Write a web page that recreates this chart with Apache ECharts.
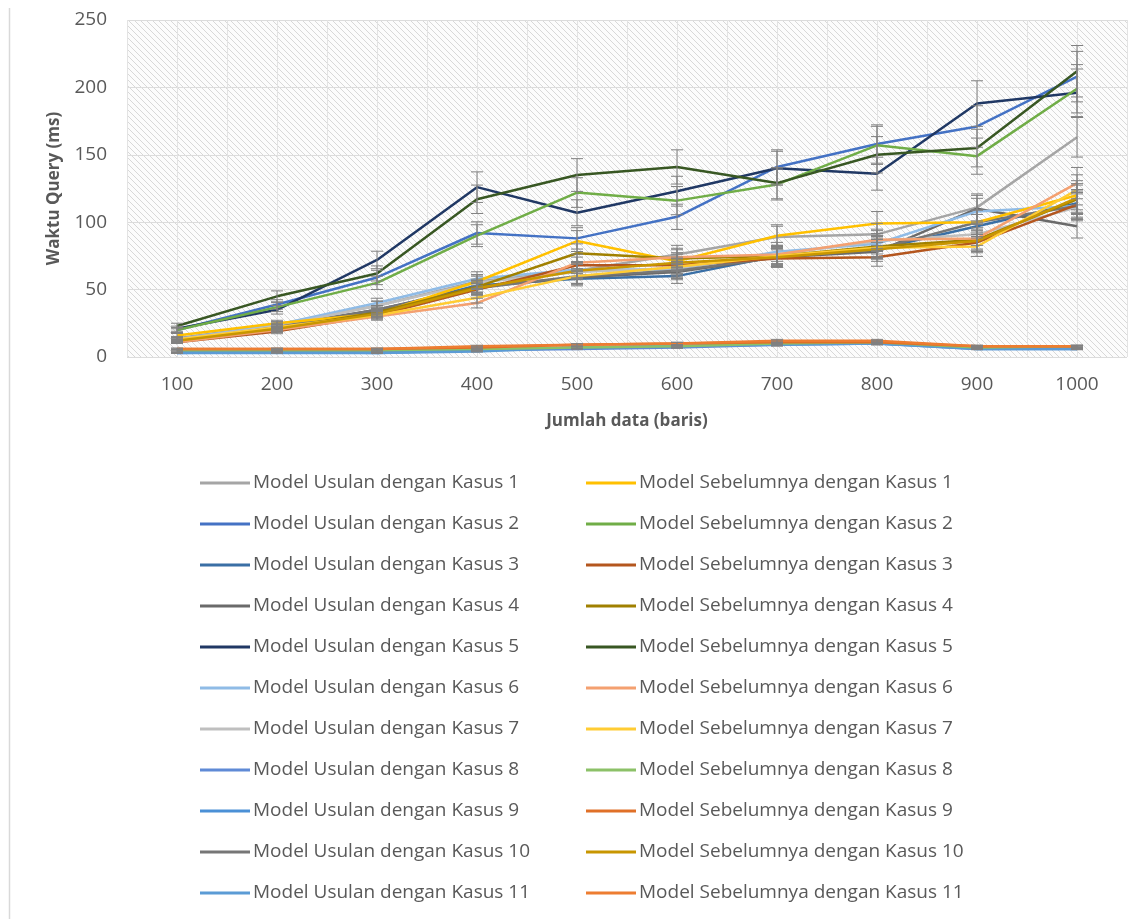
<!DOCTYPE html>
<html>
<head>
<meta charset="utf-8">
<script src="https://cdn.jsdelivr.net/npm/echarts@6/dist/echarts.min.js"></script>
<style>
  html, body { margin: 0; padding: 0; background: #fff; }
  #chart { width: 1136px; height: 919px; }
</style>
</head>
<body>
<div id="chart"></div>
<script>
// data (ms)
const categories = ["100", "200", "300", "400", "500", "600", "700", "800", "900", "1000"];
const yTicks = [0, 50, 100, 150, 200, 250];

const usulanNames = [
  "Model Usulan dengan Kasus 1", "Model Usulan dengan Kasus 2", "Model Usulan dengan Kasus 3",
  "Model Usulan dengan Kasus 4", "Model Usulan dengan Kasus 5", "Model Usulan dengan Kasus 6",
  "Model Usulan dengan Kasus 7", "Model Usulan dengan Kasus 8", "Model Usulan dengan Kasus 9",
  "Model Usulan dengan Kasus 10", "Model Usulan dengan Kasus 11"
];
const sebelumnyaNames = [
  "Model Sebelumnya dengan Kasus 1", "Model Sebelumnya dengan Kasus 2", "Model Sebelumnya dengan Kasus 3",
  "Model Sebelumnya dengan Kasus 4", "Model Sebelumnya dengan Kasus 5", "Model Sebelumnya dengan Kasus 6",
  "Model Sebelumnya dengan Kasus 7", "Model Sebelumnya dengan Kasus 8", "Model Sebelumnya dengan Kasus 9",
  "Model Sebelumnya dengan Kasus 10", "Model Sebelumnya dengan Kasus 11"
];

const usulan1 = [14, 24, 38, 56, 64, 76, 89, 91, 111, 163];
const usulan2 = [20, 39, 59, 92, 88, 104, 141, 158, 171, 208];
const usulan3 = [12, 22, 34, 53, 58, 60, 75, 80, 97, 114];
const usulan4 = [12, 23, 35, 52, 59, 63, 74, 78, 110, 97];
const usulan5 = [21, 35, 72, 126, 107, 123, 140, 136, 188, 196];
const usulan6 = [13, 24, 40, 58, 65, 65, 78, 84, 108, 112];
const usulan7 = [13, 23, 38, 55, 63, 66, 76, 86, 91, 111];
const usulan8 = [3, 4, 4, 5, 6, 7, 9, 10, 7, 7];
const usulan9 = [4, 4, 3, 5, 7, 8, 10, 10, 6, 6];
const usulan10 = [12, 22, 35, 51, 60, 64, 74, 80, 100, 112];
const usulan11 = [3, 3, 3, 4, 7, 8, 9, 10, 6, 6];

const sebelumnya1 = [16, 25, 32, 56, 86, 71, 90, 99, 100, 120];
const sebelumnya2 = [20, 37, 55, 90, 122, 116, 128, 157, 149, 199];
const sebelumnya3 = [11, 19, 31, 50, 68, 68, 73, 74, 85, 113];
const sebelumnya4 = [12, 21, 33, 52, 77, 73, 75, 82, 87, 117];
const sebelumnya5 = [23, 45, 62, 117, 135, 141, 129, 150, 155, 212];
const sebelumnya6 = [11, 20, 30, 40, 70, 74, 76, 87, 88, 129];
const sebelumnya7 = [13, 22, 31, 44, 60, 67, 75, 81, 82, 124];
const sebelumnya8 = [5, 5, 5, 6, 7, 8, 10, 11, 7, 8];
const sebelumnya9 = [6, 6, 6, 7, 9, 10, 11, 11, 8, 8];
const sebelumnya10 = [12, 21, 32, 51, 64, 70, 74, 80, 86, 118];
const sebelumnya11 = [6, 6, 6, 8, 9, 10, 12, 12, 8, 8];

const usulanValues = [usulan1, usulan2, usulan3, usulan4, usulan5, usulan6, usulan7, usulan8, usulan9, usulan10, usulan11];
const sebelumnyaValues = [sebelumnya1, sebelumnya2, sebelumnya3, sebelumnya4, sebelumnya5, sebelumnya6,
  sebelumnya7, sebelumnya8, sebelumnya9, sebelumnya10, sebelumnya11];

// percentage error bars, as in the spreadsheet
const errPct = 0.09;

const usulanColors = ["#a5a5a5", "#4472c4", "#3a6fa5", "#6a6a6a", "#203864", "#8fbbe6",
  "#bfbfbf", "#5f8ad6", "#4a90d6", "#767676", "#5b9bd5"];
const sebelumnyaColors = ["#ffc000", "#70ad47", "#b4561e", "#a08000", "#385723", "#f4a070",
  "#ffcc33", "#8cc168", "#e07028", "#c89600", "#ed7d31"];

const FONT = "'Open Sans', sans-serif";
const TXT = "#595959";

// hatched plot background
const hatch = document.createElement("canvas");
hatch.width = hatch.height = 6;
const hc = hatch.getContext("2d");
hc.fillStyle = "#fcfcfc";
hc.fillRect(0, 0, 6, 6);
hc.strokeStyle = "#d8d8d8";
hc.lineWidth = 1;
hc.beginPath();
hc.moveTo(0, 0); hc.lineTo(6, 6);
hc.moveTo(5, -1); hc.lineTo(7, 1);
hc.moveTo(-1, 5); hc.lineTo(1, 7);
hc.stroke();

const lineSeries = (name, data, color) => ({
  name: name,
  type: "line",
  data: data,
  xAxisIndex: 0,
  symbol: "none",
  color: color,
  lineStyle: { width: 2.5, color: color },
  z: 3
});

const series = [];
usulanValues.forEach((d, i) => series.push(lineSeries(usulanNames[i], d, usulanColors[i])));
sebelumnyaValues.forEach((d, i) => series.push(lineSeries(sebelumnyaNames[i], d, sebelumnyaColors[i])));

// error bar data
const errData = [];
usulanValues.concat(sebelumnyaValues).forEach((arr) => {
  arr.forEach((v, i) => errData.push([i, v * (1 - errPct), v * (1 + errPct)]));
});

series.push({
  type: "custom",
  xAxisIndex: 0,
  silent: true,
  z: 4,
  data: errData,
  renderItem: (params, api) => {
    const lo = api.coord([api.value(0), api.value(1)]);
    const hi = api.coord([api.value(0), api.value(2)]);
    const cap = 6;
    const st = { stroke: "#808080", lineWidth: 1 };
    return {
      type: "group",
      children: [
        { type: "line", shape: { x1: lo[0], y1: lo[1], x2: hi[0], y2: hi[1] }, style: st },
        { type: "line", shape: { x1: lo[0] - cap, y1: lo[1], x2: lo[0] + cap, y2: lo[1] }, style: st },
        { type: "line", shape: { x1: hi[0] - cap, y1: hi[1], x2: hi[0] + cap, y2: hi[1] }, style: st }
      ]
    };
  }
});

const legendBase = {
  orient: "vertical",
  top: 473,
  padding: 0,
  icon: "rect",
  itemWidth: 50,
  itemHeight: 3,
  itemGap: 21,
  textStyle: { color: TXT, fontSize: 19, fontFamily: FONT, lineHeight: 20, padding: [0, 0, 0, -2] }
};

const chart = echarts.init(document.getElementById("chart"));
chart.setOption({
  animation: false,
  backgroundColor: "#fff",
  grid: {
    left: 127,
    right: 9,
    top: 20,
    bottom: 562,
    show: true,
    borderWidth: 0,
    backgroundColor: { image: hatch, repeat: "repeat" }
  },
  xAxis: [
    {
      type: "category",
      data: categories,
      boundaryGap: true,
      axisLine: { show: false },
      axisTick: { show: false },
      splitLine: { show: false },
      axisLabel: { color: TXT, fontSize: 19, fontFamily: FONT, margin: 18 },
      name: "Jumlah data (baris)",
      nameLocation: "middle",
      nameGap: 56,
      nameTextStyle: { color: TXT, fontSize: 17, fontWeight: "bold", fontFamily: FONT }
    },
    {
      // extra vertical gridlines every half category
      type: "value",
      position: "top",
      min: 0,
      max: 20,
      interval: 1,
      axisLine: { show: false },
      axisTick: { show: false },
      axisLabel: { show: false },
      splitLine: { show: true, lineStyle: { color: "#e3e3e3", width: 1 } }
    }
  ],
  yAxis: {
    type: "value",
    min: yTicks[0],
    max: yTicks[yTicks.length - 1],
    interval: 50,
    axisLine: { show: false },
    axisTick: { show: false },
    splitLine: { lineStyle: { color: "#dcdcdc", width: 1 } },
    axisLabel: { color: TXT, fontSize: 19, fontFamily: FONT, margin: 20 },
    name: "Waktu Query (ms)",
    nameLocation: "middle",
    nameGap: 64,
    nameTextStyle: { color: TXT, fontSize: 17, fontWeight: "bold", fontFamily: FONT }
  },
  legend: [
    Object.assign({}, legendBase, { left: 200, data: usulanNames }),
    Object.assign({}, legendBase, { left: 586, data: sebelumnyaNames })
  ],
  graphic: [
    {
      type: "line",
      shape: { x1: 9.5, y1: 8, x2: 9.5, y2: 919 },
      style: { stroke: "#d9d9d9", lineWidth: 1.5 }
    }
  ],
  series: series
});
</script>
</body>
</html>
